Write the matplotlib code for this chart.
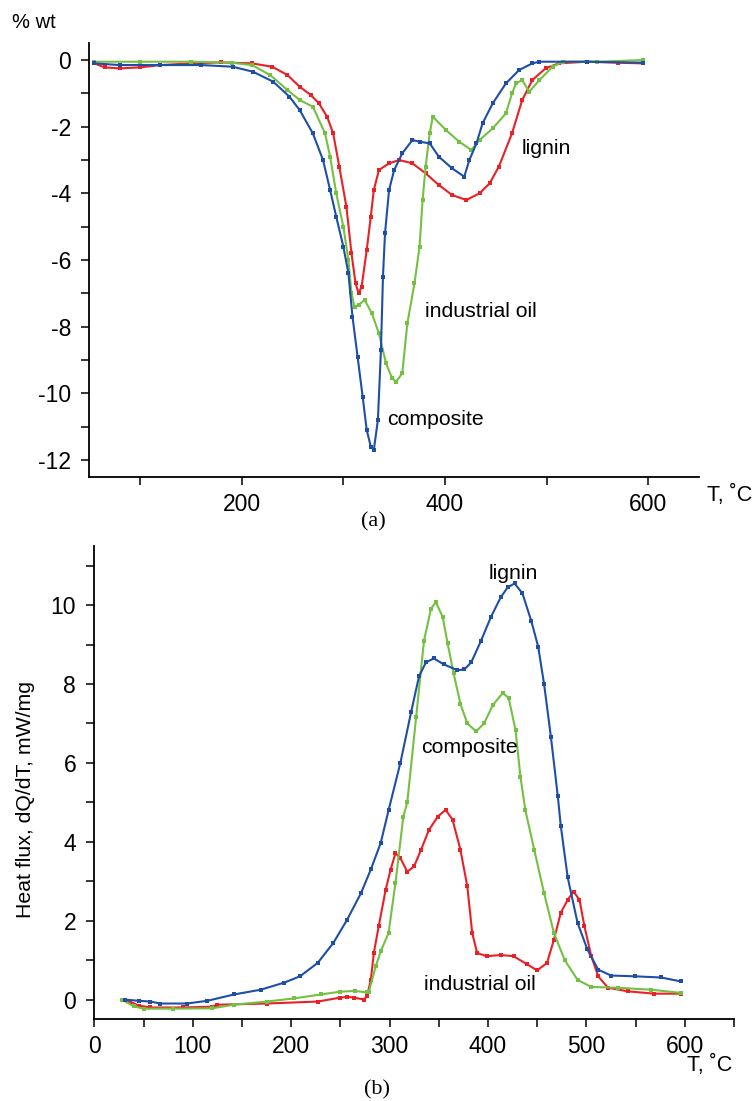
import matplotlib.pyplot as plt
from matplotlib.ticker import MultipleLocator

plt.rcParams['font.family'] = ['Liberation Sans', 'DejaVu Sans']
plt.rcParams['axes.unicode_minus'] = False

RED = "#ea2027"
GREEN = "#74c043"
BLUE = "#1f4ea6"

# --- (a) TG-derivative curves, % wt vs T
t_red_a = [55, 65, 80, 100, 120, 150, 180, 210, 230, 245, 257, 268, 276, 284, 290, 296, 303, 308, 312, 315,
           318, 323, 327, 330, 335, 345, 355, 368, 381, 394, 407, 421, 434, 444, 453, 466, 476, 486, 499, 512,
           540, 570, 595]
w_red_a = [-0.1, -0.22, -0.25, -0.22, -0.15, -0.1, -0.07, -0.1, -0.2, -0.45, -0.8, -1.05, -1.3, -1.7, -2.2, -3.2,
           -4.4, -5.8, -6.7, -7.0, -6.8, -5.7, -4.7, -3.9, -3.3, -3.1, -3.0, -3.1, -3.4, -3.75, -4.05, -4.2, -4.0,
           -3.7, -3.2, -2.2, -1.2, -0.6, -0.25, -0.1, -0.05, -0.08, -0.1]

t_green_a = [55, 100, 150, 190, 210, 228, 245, 257, 270, 282, 287, 293, 300, 305, 308, 311, 315, 321, 328, 335,
             342, 348, 352, 358, 363, 370, 375, 378, 381, 385, 388, 401, 414, 426, 434, 447, 460, 466, 470, 476,
             483, 493, 506, 516, 550, 595]
w_green_a = [-0.05, -0.05, -0.05, -0.08, -0.15, -0.45, -0.9, -1.2, -1.4, -2.2, -2.9, -4.0, -5.0, -6.0, -7.0, -7.4,
             -7.35, -7.2, -7.6, -8.2, -9.1, -9.55, -9.65, -9.4, -7.9, -6.7, -5.6, -4.2, -3.2, -2.2, -1.7, -2.1,
             -2.45, -2.7, -2.4, -2.05, -1.6, -1.0, -0.7, -0.6, -0.95, -0.6, -0.2, -0.05, -0.05, 0.0]

t_blue_a = [55, 80, 120, 160, 191, 211, 231, 247, 257, 270, 280, 287, 293, 300, 305, 309, 314, 319, 323, 327,
            330, 334, 337, 339, 341, 345, 350, 358, 368, 375, 385, 394, 407, 419, 424, 431, 437, 447, 460, 473,
            486, 493, 540, 595]
w_blue_a = [-0.1, -0.15, -0.15, -0.15, -0.2, -0.35, -0.65, -1.1, -1.5, -2.2, -3.0, -3.9, -4.7, -5.6, -6.4, -7.7,
            -8.9, -10.1, -11.1, -11.6, -11.7, -10.8, -8.7, -6.5, -5.2, -3.9, -3.3, -2.8, -2.4, -2.45, -2.5, -2.9,
            -3.25, -3.5, -3.0, -2.5, -1.9, -1.3, -0.7, -0.3, -0.1, -0.05, -0.05, -0.08]

# --- (b) heat flux vs T
t_blue_b = [31, 45, 57, 67, 94, 115, 142, 169, 193, 209, 227, 243, 257, 271, 281, 291, 299, 311, 322, 330, 337,
            345, 355, 369, 376, 383, 393, 403, 413, 420, 427, 435, 444, 451, 457, 464, 471, 474, 481, 491, 501,
            512, 525, 549, 576, 596]
q_blue_b = [0.0, -0.03, -0.05, -0.1, -0.1, -0.03, 0.13, 0.25, 0.43, 0.59, 0.93, 1.44, 2.03, 2.7, 3.3, 3.97, 4.8,
            6.0, 7.3, 8.2, 8.55, 8.65, 8.5, 8.35, 8.37, 8.55, 9.1, 9.7, 10.2, 10.45, 10.55, 10.3, 9.6, 8.95, 8.0,
            6.65, 5.15, 4.4, 3.1, 1.95, 1.27, 0.76, 0.61, 0.59, 0.56, 0.46]

t_green_b = [28, 40, 50, 80, 120, 142, 175, 203, 230, 250, 265, 277, 279, 286, 291, 299, 306, 314, 318, 327, 335,
             342, 347, 354, 359, 365, 372, 379, 388, 396, 405, 415, 421, 428, 433, 438, 447, 457, 467, 478, 491,
             505, 532, 566, 596]
q_green_b = [0.0, -0.17, -0.23, -0.23, -0.22, -0.13, -0.05, 0.03, 0.13, 0.2, 0.22, 0.18, 0.2, 0.85, 1.22, 1.69,
             2.96, 4.64, 5.0, 7.16, 9.1, 9.9, 10.08, 9.7, 9.03, 8.28, 7.5, 7.0, 6.8, 7.0, 7.47, 7.77, 7.65, 6.83,
             5.65, 4.8, 3.8, 2.7, 1.69, 1.0, 0.5, 0.32, 0.3, 0.25, 0.17]

t_red_b = [28, 36, 45, 57, 90, 120, 125, 175, 227, 250, 257, 264, 274, 277, 281, 284, 289, 296, 301, 306, 311,
           318, 325, 332, 340, 349, 357, 364, 372, 379, 384, 389, 399, 413, 426, 440, 450, 460, 467, 474, 481,
           487, 493, 498, 505, 512, 522, 542, 569, 596]
q_red_b = [0.0, -0.05, -0.15, -0.2, -0.2, -0.18, -0.13, -0.1, -0.05, 0.05, 0.07, 0.05, 0.0, 0.08, 0.5, 1.18,
           1.86, 2.78, 3.29, 3.71, 3.59, 3.24, 3.38, 3.8, 4.3, 4.64, 4.81, 4.56, 3.8, 2.87, 1.69, 1.18, 1.1, 1.13,
           1.1, 0.89, 0.74, 0.93, 1.52, 2.2, 2.53, 2.74, 2.53, 1.86, 1.1, 0.59, 0.3, 0.21, 0.15, 0.15]

FS = 15.3      # annotation text
TFS = 16.5     # tick labels
fig = plt.figure(figsize=(7.55, 11.01), dpi=100)


def style(ax):
    for s in ("top", "right"):
        ax.spines[s].set_visible(False)
    for s in ("left", "bottom"):
        ax.spines[s].set_linewidth(1.3)
    ax.tick_params(which="both", direction="out", width=1.1, length=6, labelsize=TFS)
    ax.tick_params(axis="y", pad=7)
    ax.tick_params(axis="x", pad=5)


def curve(ax, t, v, c):
    ax.plot(t, v, color=c, lw=1.5, marker="s", ms=2.4, mew=0, zorder=3)


# panel (a)
ax1 = fig.add_axes([0.1183, 0.5665, 0.8075, 0.3947])
curve(ax1, t_red_a, w_red_a, RED)
curve(ax1, t_green_a, w_green_a, GREEN)
curve(ax1, t_blue_a, w_blue_a, BLUE)
ax1.set_xlim(50, 650)
ax1.set_ylim(-12.52, 0.52)
ax1.xaxis.set_major_locator(MultipleLocator(200))
ax1.xaxis.set_minor_locator(MultipleLocator(100))
ax1.yaxis.set_major_locator(MultipleLocator(2))
ax1.yaxis.set_minor_locator(MultipleLocator(1))
style(ax1)
ax1.text(475, -2.64, "lignin", fontsize=FS, va="center")
ax1.text(380, -7.56, "industrial oil", fontsize=FS, va="center")
ax1.text(343, -10.8, "composite", fontsize=FS, va="center")

# panel (b)
ax2 = fig.add_axes([0.1249, 0.0742, 0.8473, 0.4299])
curve(ax2, t_red_b, q_red_b, RED)
curve(ax2, t_green_b, q_green_b, GREEN)
curve(ax2, t_blue_b, q_blue_b, BLUE)
ax2.set_xlim(0, 650)
ax2.set_ylim(-0.5, 11.5)
ax2.xaxis.set_major_locator(MultipleLocator(100))
ax2.xaxis.set_minor_locator(MultipleLocator(50))
ax2.yaxis.set_major_locator(MultipleLocator(2))
ax2.yaxis.set_minor_locator(MultipleLocator(1))
style(ax2)
ax2.text(401, 10.8, "lignin", fontsize=FS, va="center")
ax2.text(332, 6.4, "composite", fontsize=FS, va="center")
ax2.text(335, 0.38, "industrial oil", fontsize=FS, va="center")

# labels placed in figure coords
W, H = 755, 1101
fig.text(12 / W, 1 - 23 / H, "% wt", fontsize=14.5, va="center")
fig.text(707 / W, 1 - 495 / H, "T, ˚C", fontsize=15.5, va="center")
fig.text(687 / W, 1 - 1065 / H, "T, ˚C", fontsize=15.5, va="center")
fig.text(26 / W, 1 - 800 / H, "Heat flux, dQ/dT, mW/mg", fontsize=FS, va="center", ha="center",
         rotation=90)
fig.text(373 / W, 1 - 522 / H, "(a)", fontsize=16, ha="center", va="center",
         family=["Liberation Serif", "DejaVu Serif"])
fig.text(377 / W, 1 - 1090 / H, "(b)", fontsize=16, ha="center", va="center",
         family=["Liberation Serif", "DejaVu Serif"])

fig.savefig("out.png", dpi=100)
